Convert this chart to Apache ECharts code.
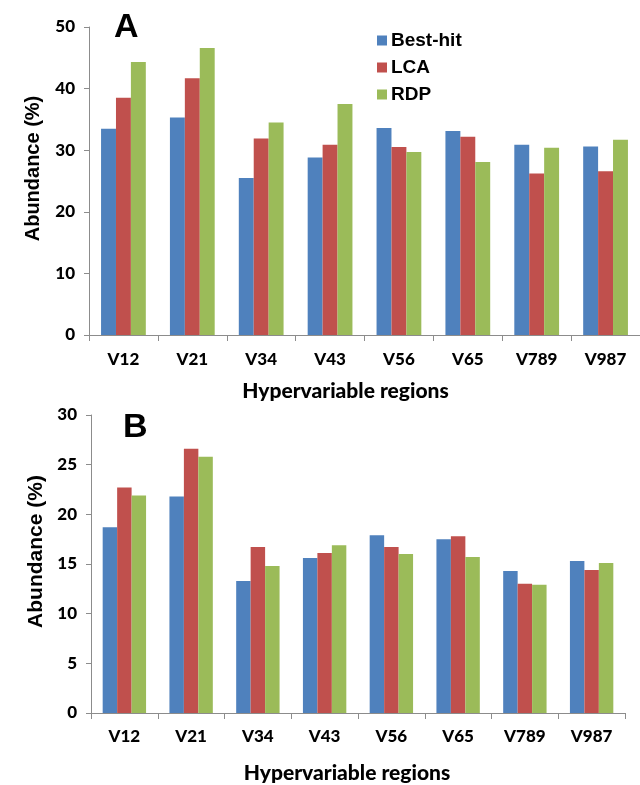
<!DOCTYPE html>
<html><head><meta charset="utf-8">
<script src="https://cdn.jsdelivr.net/npm/echarts@6/dist/echarts.min.js"></script>
<style>html,body{margin:0;padding:0;background:#fff}#c{width:640px;height:785px}</style>
</head><body><div id="c"></div>
<script>
const categories = ['V12','V21','V34','V43','V56','V65','V789','V987'];
const seriesNames = ['Best-hit','LCA','RDP'];
const bestHitA = [33.5, 35.3, 25.5, 28.8, 33.6, 33.1, 30.9, 30.6];
const lcaA     = [38.5, 41.7, 31.9, 30.9, 30.5, 32.2, 26.2, 26.6];
const rdpA     = [44.3, 46.6, 34.5, 37.5, 29.7, 28.1, 30.4, 31.7];
const bestHitB = [18.7, 21.8, 13.3, 15.6, 17.9, 17.5, 14.3, 15.3];
const lcaB     = [22.7, 26.6, 16.7, 16.1, 16.7, 17.8, 13.0, 14.4];
const rdpB     = [21.9, 25.8, 14.8, 16.9, 16.0, 15.7, 12.9, 15.1];
const yTicksA = {max:50, interval:10};
const yTicksB = {max:30, interval:5};
const colors = ['#4F81BD','#C0504D','#9BBB59'];

const calibri = 'Lato, "Liberation Sans Narrow", sans-serif';
const arial = '"Liberation Sans", Arial, sans-serif';
const gray = '#8c8c8c';

function xAxis(gi, labelMargin, nameGap, shift){
  return {type:'category', gridIndex:gi, data:categories,
    axisLine:{lineStyle:{color:gray, width:1}}, axisTick:{show:true, length:6, lineStyle:{color:gray}},
    axisLabel:{color:'#000', fontFamily:calibri, fontWeight:900, fontSize:17, margin:labelMargin},
    name:'Hypervariable regions', nameLocation:'middle', nameGap:nameGap,
    nameTextStyle:{color:'#000', fontFamily:calibri, fontWeight:900, fontSize:21, padding:[0,shift,0,0]}};
}
function yAxis(gi, t, gap, nameSize){
  return {type:'value', gridIndex:gi, min:0, max:t.max, interval:t.interval,
    axisLine:{show:true, lineStyle:{color:gray}}, axisTick:{show:true, length:5, lineStyle:{color:gray}},
    splitLine:{show:false},
    axisLabel:{color:'#000', fontFamily:calibri, fontWeight:900, fontSize:17, margin:14},
    name:'Abundance (%)', nameLocation:'middle', nameGap:gap,
    nameTextStyle:{color:'#000', fontFamily:arial, fontWeight:'bold', fontSize:nameSize, padding:[0,0,0,25]}};
}
function bars(data, name, ci, gi){
  return {type:'bar', name:name, xAxisIndex:gi, yAxisIndex:gi, data:data,
    itemStyle:{color:colors[ci]}, barGap:'0%', barCategoryGap:'35%'};
}
const letterStyle = {font:'bold 34px "Liberation Sans", Arial', fill:'#000',
  shadowColor:'rgba(0,0,0,0.35)', shadowBlur:2, shadowOffsetX:1, shadowOffsetY:1};
const option = {
  animation:false,
  color:colors,
  grid:[
    {left:89, right:0, top:27, height:308},
    {left:91, right:15, top:415, height:302}
  ],
  legend:{orient:'vertical', left:377, top:31, itemWidth:10, itemHeight:10, itemGap:8,
    icon:'rect', data:seriesNames, padding:[0,0,0,0],
    textStyle:{color:'#000', fontFamily:arial, fontWeight:'bold', fontSize:19, padding:[0,0,0,-1]}},
  xAxis:[xAxis(0, 16, 46, 38), xAxis(1, 15, 50, 22)],
  yAxis:[yAxis(0, yTicksA, 46, 20), yAxis(1, yTicksB, 42, 21)],
  graphic:[
    {type:'text', left:114, top:11, style:Object.assign({text:'A'}, letterStyle)},
    {type:'text', left:123, top:411, style:Object.assign({text:'B'}, letterStyle)}
  ],
  series:[
    bars(bestHitA, seriesNames[0], 0, 0), bars(lcaA, seriesNames[1], 1, 0), bars(rdpA, seriesNames[2], 2, 0),
    bars(bestHitB, seriesNames[0], 0, 1), bars(lcaB, seriesNames[1], 1, 1), bars(rdpB, seriesNames[2], 2, 1)
  ]
};
echarts.init(document.getElementById('c')).setOption(option);
</script></body></html>
